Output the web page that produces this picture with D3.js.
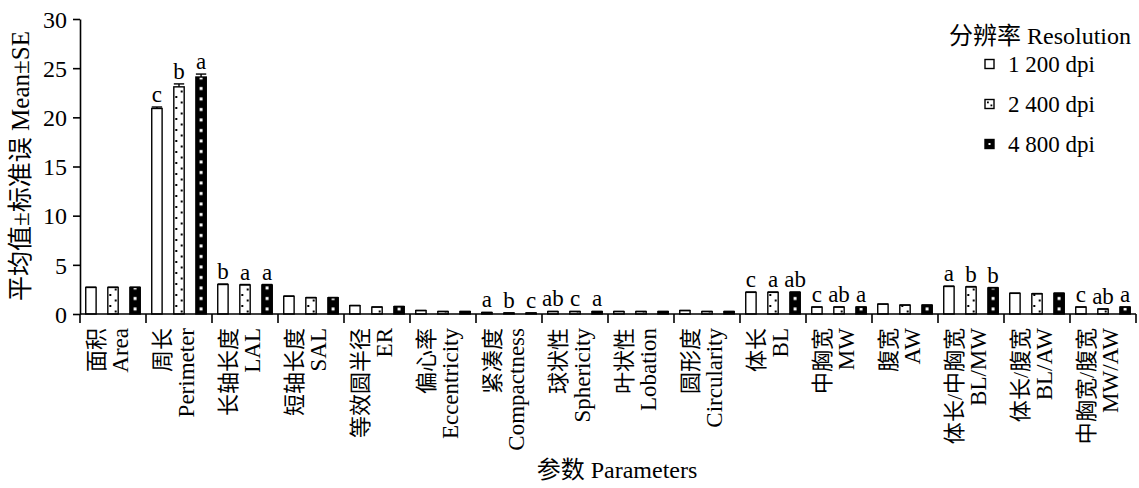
<!DOCTYPE html>
<html>
<head>
<meta charset="utf-8">
<script src="https://cdn.jsdelivr.net/npm/d3@7"></script>
<style>
  body { margin: 0; background: #fff; }
  svg text { font-family: "Liberation Serif", "Times New Roman", Times, "Noto Sans CJK SC", serif; fill: #000; }
</style>
</head>
<body>
<svg id="chart" width="1139" height="488"></svg>
<script>
// categories (Chinese / English)
var catCn = ["面积", "周长", "长轴长度", "短轴长度", "等效圆半径", "偏心率", "紧凑度", "球状性",
             "叶状性", "圆形度", "体长", "中胸宽", "腹宽", "体长/中胸宽", "体长/腹宽", "中胸宽/腹宽"];
var catEn = ["Area", "Perimeter", "LAL", "SAL", "ER", "Eccentricity", "Compactness", "Sphericity",
             "Lobation", "Circularity", "BL", "MW", "AW", "BL/MW", "BL/AW", "MW/AW"];

var seriesNames = ["1 200 dpi", "2 400 dpi", "4 800 dpi"];

// means per series
var mean1200 = [2.7, 20.9, 3.0, 1.8, 0.85, 0.35, 0.15, 0.25, 0.25, 0.35, 2.2, 0.7, 1.0, 2.8, 2.1, 0.7];
var mean2400 = [2.7, 23.1, 2.95, 1.65, 0.7, 0.25, 0.1, 0.25, 0.25, 0.25, 2.2, 0.7, 0.9, 2.75, 2.05, 0.5];
var mean4800 = [2.7, 24.1, 2.95, 1.65, 0.75, 0.25, 0.1, 0.25, 0.25, 0.25, 2.2, 0.7, 0.9, 2.65, 2.1, 0.7];

// standard errors
var se1200 = [0.03, 0.15, 0.05, 0.03, 0.02, 0.01, 0.01, 0.01, 0.01, 0.01, 0.04, 0.02, 0.02, 0.04, 0.03, 0.02];
var se2400 = [0.03, 0.3, 0.05, 0.03, 0.02, 0.01, 0.01, 0.01, 0.01, 0.01, 0.04, 0.02, 0.02, 0.04, 0.03, 0.02];
var se4800 = [0.03, 0.3, 0.05, 0.03, 0.02, 0.01, 0.01, 0.01, 0.01, 0.01, 0.04, 0.02, 0.02, 0.04, 0.03, 0.02];

// significance letters
var sig1200 = ["", "c", "b", "", "", "", "a", "ab", "", "", "c", "c", "", "a", "", "c"];
var sig2400 = ["", "b", "a", "", "", "", "b", "c", "", "", "a", "ab", "", "b", "", "ab"];
var sig4800 = ["", "a", "a", "", "", "", "c", "a", "", "", "ab", "a", "", "b", "", "a"];

var yTicks = [0, 5, 10, 15, 20, 25, 30];

var means = [mean1200, mean2400, mean4800];
var ses = [se1200, se2400, se4800];
var sigs = [sig1200, sig2400, sig4800];

var FONT = '"Liberation Serif", "Times New Roman", Times, "Noto Sans CJK SC", serif';

var svg = d3.select("#chart");
var margin = {left: 80, top: 19, bottom: 314, right: 1136};

var x0 = d3.scaleBand()
    .domain(catEn)
    .range([margin.left, margin.right])
    .padding(0);

var x1 = d3.scaleBand()
    .domain(seriesNames)
    .range([0, x0.bandwidth()])
    .paddingInner(0.53)
    .paddingOuter(0.26);

var y = d3.scaleLinear()
    .domain([0, 30])
    .range([margin.bottom, margin.top]);

// fill patterns, tiled per category band so the dots line up with each bar
var defs = svg.append("defs");
var bw = x1.bandwidth();

var p2 = defs.append("pattern")
    .attr("id", "p2400")
    .attr("patternUnits", "userSpaceOnUse")
    .attr("x", margin.left).attr("y", margin.bottom)
    .attr("width", x0.step()).attr("height", 11);
p2.append("rect").attr("width", x0.step()).attr("height", 11).attr("fill", "#fff");
p2.append("rect").attr("x", x1(seriesNames[1]) + 1.5).attr("y", 2).attr("width", 2).attr("height", 2).attr("fill", "#000");
p2.append("rect").attr("x", x1(seriesNames[1]) + bw - 3.5).attr("y", 7.5).attr("width", 2).attr("height", 2).attr("fill", "#000");

var p4 = defs.append("pattern")
    .attr("id", "p4800")
    .attr("patternUnits", "userSpaceOnUse")
    .attr("x", margin.left).attr("y", margin.bottom)
    .attr("width", x0.step()).attr("height", 10.5);
p4.append("rect").attr("width", x0.step()).attr("height", 10.5).attr("fill", "#000");
p4.append("rect").attr("x", x1(seriesNames[2]) + bw / 2 - 1.5).attr("y", 4).attr("width", 3).attr("height", 3).attr("fill", "#fff");

var fills = ["#fff", "url(#p2400)", "url(#p4800)"];

// flatten for drawing
var rows = [];
catEn.forEach(function (c, i) {
    seriesNames.forEach(function (s, j) {
        rows.push({cat: c, ser: s, j: j, v: means[j][i], se: ses[j][i], sig: sigs[j][i]});
    });
});

// bars
svg.append("g").selectAll("rect")
    .data(rows).enter()
    .append("rect")
    .attr("x", function (d) { return x0(d.cat) + x1(d.ser); })
    .attr("y", function (d) { return y(d.v); })
    .attr("width", bw)
    .attr("height", function (d) { return y(0) - y(d.v); })
    .attr("fill", function (d) { return fills[d.j]; })
    .attr("stroke", "#000")
    .attr("stroke-width", 1.4);

// error bars (upper only)
var eb = svg.append("g").attr("stroke", "#000").attr("stroke-width", 1.4);
eb.selectAll("line.v")
    .data(rows).enter()
    .append("line")
    .attr("x1", function (d) { return x0(d.cat) + x1(d.ser) + bw / 2; })
    .attr("x2", function (d) { return x0(d.cat) + x1(d.ser) + bw / 2; })
    .attr("y1", function (d) { return y(d.v); })
    .attr("y2", function (d) { return y(d.v + d.se); });
eb.selectAll("line.h")
    .data(rows).enter()
    .append("line")
    .attr("x1", function (d) { return x0(d.cat) + x1(d.ser); })
    .attr("x2", function (d) { return x0(d.cat) + x1(d.ser) + bw; })
    .attr("y1", function (d) { return y(d.v + d.se); })
    .attr("y2", function (d) { return y(d.v + d.se); });

// significance letters
svg.append("g").selectAll("text")
    .data(rows.filter(function (d) { return d.sig; })).enter()
    .append("text")
    .attr("x", function (d) { return x0(d.cat) + x1(d.ser) + bw / 2; })
    .attr("y", function (d) { return y(d.v + d.se) - 5; })
    .attr("text-anchor", "middle")
    .style("font-size", "23px")
    .text(function (d) { return d.sig; });

// y axis
var yAxis = d3.axisLeft(y).tickValues(yTicks).tickSize(7).tickSizeOuter(0);
var gy = svg.append("g")
    .attr("transform", "translate(" + margin.left + ",0)")
    .call(yAxis)
    .attr("font-family", FONT);
gy.selectAll("path, line").attr("stroke", "#000").attr("stroke-width", 1.6);
gy.selectAll("text").style("font-size", "24px").attr("x", -13).attr("dy", "0.34em");

// x axis: line with ticks at band edges
var gx = svg.append("g");
gx.append("line")
    .attr("x1", margin.left).attr("x2", margin.right)
    .attr("y1", y(0)).attr("y2", y(0))
    .attr("stroke", "#000").attr("stroke-width", 1.6);
var edges = catEn.map(function (c) { return x0(c); }).concat([margin.right]);
gx.selectAll("line.tick")
    .data(edges).enter()
    .append("line")
    .attr("x1", function (d) { return d; }).attr("x2", function (d) { return d; })
    .attr("y1", y(0)).attr("y2", y(0) + 9)
    .attr("stroke", "#000").attr("stroke-width", 1.6);

// rotated category labels (two lines)
var lab = svg.append("g").selectAll("g")
    .data(catEn).enter()
    .append("g")
    .attr("transform", function (d) {
        return "translate(" + (x0(d) + x0.bandwidth() / 2) + ",328) rotate(-90)";
    });
lab.append("text")
    .attr("text-anchor", "end")
    .attr("y", -17)
    .attr("dominant-baseline", "central")
    .style("font-size", "22px")
    .text(function (d, i) { return catCn[i]; });
lab.append("text")
    .attr("text-anchor", "end")
    .attr("y", 7)
    .attr("dominant-baseline", "central")
    .style("font-size", "23px")
    .text(function (d) { return d; });

// axis titles
svg.append("text")
    .attr("x", 617).attr("y", 478)
    .attr("text-anchor", "middle")
    .style("font-size", "24px")
    .text("参数 Parameters");

svg.append("text")
    .attr("transform", "translate(29,166) rotate(-90)")
    .attr("text-anchor", "middle")
    .style("font-size", "25px")
    .text("平均值±标准误 Mean±SE");

// legend
var lg = svg.append("g");
lg.append("text")
    .attr("x", 1131).attr("y", 44)
    .attr("text-anchor", "end")
    .style("font-size", "24px")
    .text("分辨率 Resolution");

var items = lg.selectAll("g.item")
    .data(seriesNames).enter()
    .append("g")
    .attr("transform", function (d, i) { return "translate(985," + (64 + i * 40) + ")"; });
items.append("rect")
    .attr("x", 0).attr("y", -4.5)
    .attr("width", 9).attr("height", 9)
    .attr("fill", function (d, i) { return i === 2 ? "#000" : "#fff"; })
    .attr("stroke", "#000").attr("stroke-width", 1.4);
items.filter(function (d, i) { return i === 1; }).each(function () {
    var g = d3.select(this);
    g.append("rect").attr("x", 2).attr("y", -2.5).attr("width", 1.8).attr("height", 1.8).attr("fill", "#000");
    g.append("rect").attr("x", 5.5).attr("y", 0.5).attr("width", 1.8).attr("height", 1.8).attr("fill", "#000");
});
items.filter(function (d, i) { return i === 2; })
    .append("rect").attr("x", 3.5).attr("y", -1).attr("width", 2).attr("height", 2).attr("fill", "#fff");
items.append("text")
    .attr("x", 23).attr("y", 0)
    .attr("dy", "0.34em")
    .style("font-size", "23px")
    .text(function (d) { return d; });
</script>
</body>
</html>
